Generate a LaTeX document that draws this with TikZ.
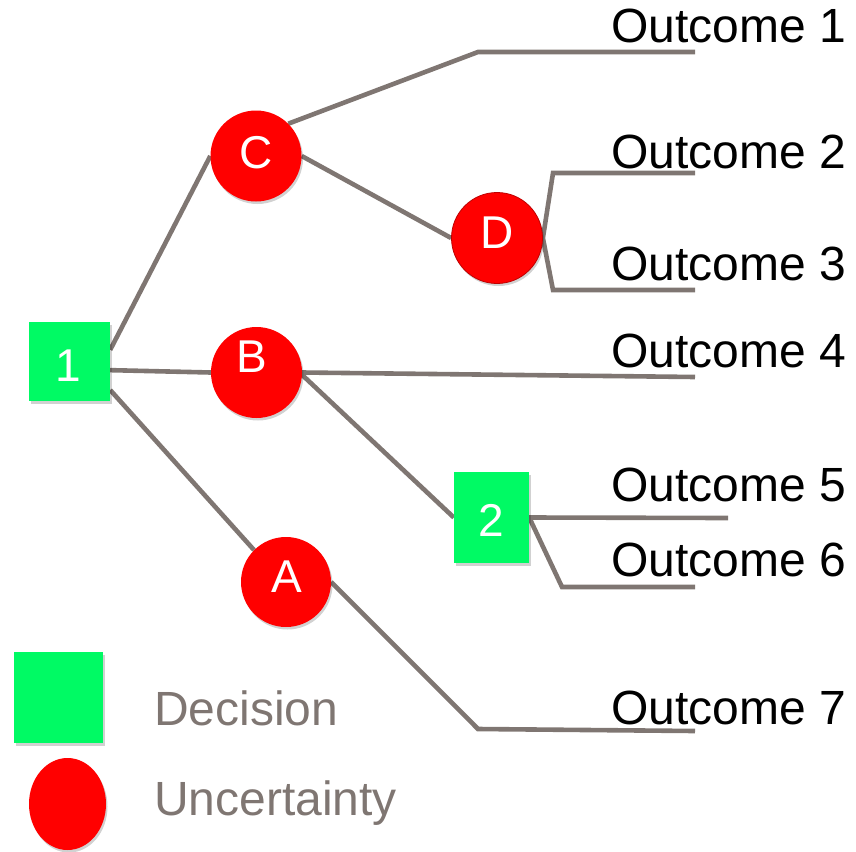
\documentclass[tikz,border=0pt]{standalone}
\usepackage{fontspec}
\setmainfont{Liberation Sans}
\usetikzlibrary{backgrounds,shadows,shapes.geometric}
\definecolor{linegray}{RGB}{127,118,114}
\definecolor{decgreen}{RGB}{0,250,100}
\begin{document}
\begin{tikzpicture}[x=1pt,y=-1pt,
  conn/.style={draw=linegray, line width=4.6pt, line join=miter},
  shad/.style={drop shadow={shadow xshift=1.5pt, shadow yshift=-2.5pt, opacity=0.18, fill=black}},
  decbox/.style={shad, fill=decgreen, inner sep=0pt, draw=none},
  uncirc/.style={shad, circle, fill=red, inner sep=0pt, minimum size=91pt},
  nlabel/.style={text=white, font=\fontsize{46}{50}\selectfont, anchor=base, inner sep=0pt},
  outtext/.style={anchor=base west, inner sep=0pt, font=\fontsize{48}{56}\selectfont},
  legtext/.style={anchor=base west, inner sep=0pt, text=linegray, font=\fontsize{48}{56}\selectfont}]
\useasboundingbox (0,0) rectangle (856,851);

% decision and uncertainty nodes
\node[decbox, minimum width=81pt, minimum height=79pt] (n1) at (69.5,361.5) {};
\node[decbox, minimum width=75pt, minimum height=91pt] (n2) at (491.5,517.5) {};
\node[uncirc] (C) at (256,156) {};
\node[uncirc] (B) at (256.5,372.5) {};
\node[uncirc, minimum size=90pt] (A) at (286,582) {};
\node[uncirc, draw=red!75!black, line width=0.8pt] (D) at (497,238) {};

% node labels
\node[nlabel] (l1) at (68,381) {1};
\node[nlabel] (l2) at (491.5,536) {2};
\node[nlabel] (lC) at (256,168) {C};
\node[nlabel] (lB) at (252,372) {B};
\node[nlabel] (lA) at (287,592) {A};
\node[nlabel] (lD) at (497,248) {D};

% branch corners and free ends
\coordinate (c1) at (478,52);  \coordinate (e1) at (695,52);
\coordinate (c2) at (553,173); \coordinate (e2) at (695,173);
\coordinate (c3) at (553,290); \coordinate (e3) at (695,290);
\coordinate (e4) at (695,377);
\coordinate (e5) at (728,518);
\coordinate (c6) at (562,587); \coordinate (e6) at (695,587);
\coordinate (c7) at (478,729); \coordinate (e7) at (695,731);

\begin{scope}[on background layer]
\draw[conn] (n1.16) -- (C.west);
\draw[conn] (n1.-12) -- (B.west);
\draw[conn] (n1.-35) -- (A.135);
\draw[conn] (C.45) -- (c1) -- (e1);
\draw[conn] (C.east) -- (D.west);
\draw[conn] (e2) -- (c2) -- (D.east) -- (c3) -- (e3);
\draw[conn] (B.east) -- (e4);
\draw[conn] (B.-3) -- (n2.west);
\draw[conn] (e5) -- (n2.east) -- (c6) -- (e6);
\draw[conn] (A.east) -- (c7) -- (e7);
\end{scope}

% outcomes
\node[outtext] (o1) at (611,43) {Outcome 1};
\node[outtext] (o2) at (611,168) {Outcome 2};
\node[outtext] (o3) at (611,280) {Outcome 3};
\node[outtext] (o4) at (611,367) {Outcome 4};
\node[outtext] (o5) at (611,501) {Outcome 5};
\node[outtext] (o6) at (611,576) {Outcome 6};
\node[outtext] (o7) at (611,724) {Outcome 7};

% legend
\node[decbox, minimum width=89pt, minimum height=91pt] (legD) at (58.5,697.5) {};
\node[shad, ellipse, fill=red, inner sep=0pt, minimum width=77pt, minimum height=92pt] (legU) at (67.5,804) {};
\node[legtext] (tD) at (154,725) {Decision};
\node[legtext] (tU) at (154,815) {Uncertainty};
\end{tikzpicture}
\end{document}
